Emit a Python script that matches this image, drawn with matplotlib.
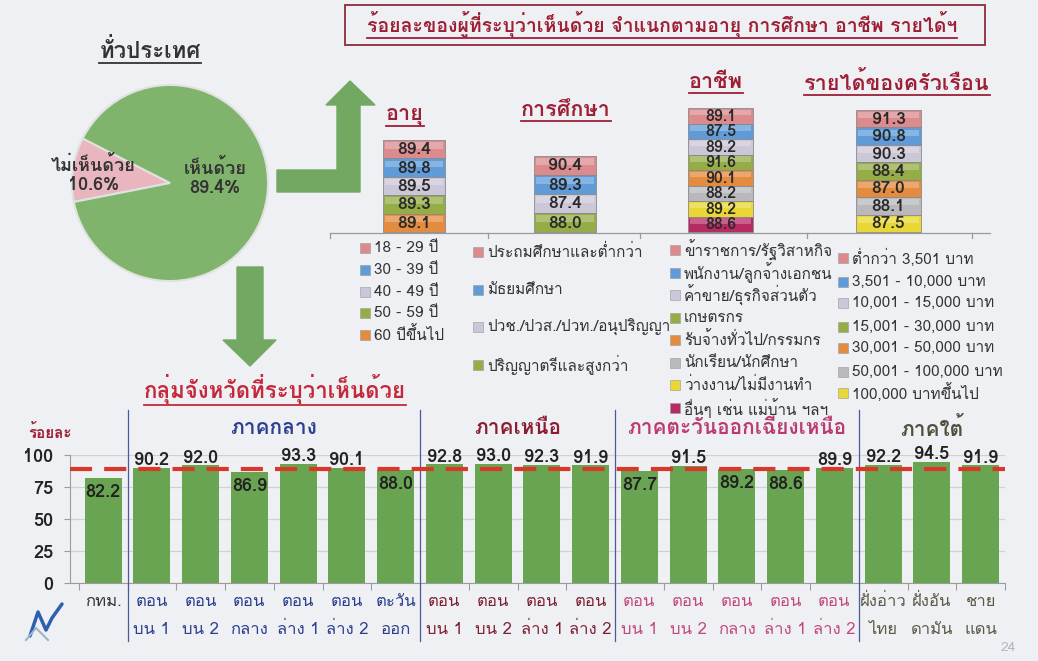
import matplotlib
matplotlib.use("Agg")
import matplotlib.pyplot as plt
import numpy as np
from matplotlib import font_manager
from matplotlib.ft2font import FT2Font
from matplotlib.patches import Polygon, Rectangle


# find an installed family that actually has Thai glyphs
def thai_family():
    for f in font_manager.fontManager.ttflist:
        try:
            if 0x0E01 in FT2Font(f.fname).get_charmap():
                return f.name
        except Exception:
            pass
    return "DejaVu Sans"


TH = thai_family()
plt.rcParams["font.family"] = [TH, "DejaVu Sans"]

# ---- data ----
pie_labels = ["ไม่เห็นด้วย", "เห็นด้วย"]
pie_values = [10.6, 89.4]

age_labels = ["18 - 29 ปี", "30 - 39 ปี", "40 - 49 ปี", "50 - 59 ปี", "60 ปีขึ้นไป"]
age_values = [89.4, 89.8, 89.5, 89.3, 89.1]

edu_labels = ["ประถมศึกษาและต่ำกว่า", "มัธยมศึกษา", "ปวช./ปวส./ปวท./อนุปริญญา",
              "ปริญญาตรีและสูงกว่า"]
edu_values = [90.4, 89.3, 87.4, 88.0]

job_labels = ["ข้าราชการ/รัฐวิสาหกิจ", "พนักงาน/ลูกจ้างเอกชน", "ค้าขาย/ธุรกิจส่วนตัว",
              "เกษตรกร", "รับจ้างทั่วไป/กรรมกร", "นักเรียน/นักศึกษา",
              "ว่างงาน/ไม่มีงานทำ", "อื่นๆ เช่น แม่บ้าน ฯลฯ"]
job_values = [89.1, 87.5, 89.2, 91.6, 90.1, 88.2, 89.2, 88.6]

inc_labels = ["ต่ำกว่า 3,501 บาท", "3,501 - 10,000 บาท", "10,001 - 15,000 บาท",
              "15,001 - 30,000 บาท", "30,001 - 50,000 บาท", "50,001 - 100,000 บาท",
              "100,000 บาทขึ้นไป"]
inc_values = [91.3, 90.8, 90.3, 88.4, 87.0, 88.1, 87.5]

regions = ["ภาคกลาง", "ภาคเหนือ", "ภาคตะวันออกเฉียงเหนือ", "ภาคใต้"]
grp_line1 = ["กทม.", "ตอน", "ตอน", "ตอน", "ตอน", "ตอน", "ตะวัน",
             "ตอน", "ตอน", "ตอน", "ตอน",
             "ตอน", "ตอน", "ตอน", "ตอน", "ตอน",
             "ฝั่งอ่าว", "ฝั่งอัน", "ชาย"]
grp_line2 = ["", "บน 1", "บน 2", "กลาง", "ล่าง 1", "ล่าง 2", "ออก",
             "บน 1", "บน 2", "ล่าง 1", "ล่าง 2",
             "บน 1", "บน 2", "กลาง", "ล่าง 1", "ล่าง 2",
             "ไทย", "ดามัน", "แดน"]
grp_region = [-1, 0, 0, 0, 0, 0, 0, 1, 1, 1, 1, 2, 2, 2, 2, 2, 3, 3, 3]
grp_values = [82.2, 90.2, 92.0, 86.9, 93.3, 90.1, 88.0,
              92.8, 93.0, 92.3, 91.9,
              87.7, 91.5, 89.2, 88.6, 89.9,
              92.2, 94.5, 91.9]

# ---- styling ----
W, H = 1038, 661
bg = "#eef0f3"
green = "#68a451"
arrow_green = "#72a862"
dark_red = "#9e1f35"
cell_colors = ["#dc8a8e", "#5f9bd8", "#cbc6d8", "#95ad47",
               "#e38b3e", "#b9b9bd", "#e8d734", "#b72b63"]
region_colors = ["#2c3f8f", "#8c1d30", "#bb3a72", "#4f4f3c"]
label_colors = ["#333333", "#2c3f8f", "#7e2033", "#c2497c", "#5b5b48"]

fig = plt.figure(figsize=(W / 100, H / 100), dpi=100)
fig.patch.set_facecolor(bg)

# full-figure pixel canvas for the infographic parts
ax0 = fig.add_axes([0, 0, 1, 1])
ax0.set_xlim(0, W)
ax0.set_ylim(H, 0)
ax0.axis("off")

to_underline = []

def utext(x, y, s, **kw):
    t = ax0.text(x, y, s, **kw)
    to_underline.append((t, kw.get("color", "k")))
    return t

# heading + pie
utext(150, 50, "ทั่วประเทศ", fontsize=16, fontweight="bold", color="#333333",
      ha="center", va="center")

axp = fig.add_axes([70 / W, (H - 283) / H, 200 / W, 200 / H])
axp.pie(pie_values, colors=["#e9b6bf", "#80b46c"], startangle=153,
        counterclock=True, radius=1,
        wedgeprops=dict(edgecolor="#dfe3e0", linewidth=1.5))
axp.set_xlim(-1.02, 1.02)
axp.set_ylim(-1.02, 1.02)
axp.text(-0.78, 0.08, f"{pie_labels[0]}\n{pie_values[0]}%", ha="center", va="center",
         fontsize=13, fontweight="bold", color="#333333", linespacing=1.1)
axp.text(0.46, 0.05, f"{pie_labels[1]}\n{pie_values[1]}%", ha="center", va="center",
         fontsize=13, fontweight="bold", color="#333333", linespacing=1.1)

# arrows
ax0.add_patch(Polygon([(277, 170), (337, 170), (337, 105), (326, 105), (350, 81),
                       (375, 105), (360, 105), (360, 192), (277, 192)],
                      closed=True, color=arrow_green, zorder=2))
ax0.add_patch(Polygon([(237, 267), (263, 267), (263, 340), (276, 340), (250, 366),
                       (223, 340), (237, 340)],
                      closed=True, color=arrow_green, zorder=2))

# title box
ax0.add_patch(Rectangle((345, 5), 640, 40, fill=False, edgecolor="#8e2a3b", lw=1.3))
utext(662, 24, "ร้อยละของผู้ที่ระบุว่าเห็นด้วย จำแนกตามอายุ การศึกษา อาชีพ รายได้ฯ",
      fontsize=14, fontweight="bold", color=dark_red, ha="center", va="center")

# stacked blocks
blocks = [
    ("อายุ", age_values, age_labels, 383, 445, 140, (405, 115), 365, [248, 270, 292, 313, 335]),
    ("การศึกษา", edu_values, edu_labels, 534, 596, 156, (566, 110), 478, [252, 290, 327, 365]),
    ("อาชีพ", job_values, job_labels, 688, 753, 108, (716, 82),
     675, [250, 273, 295, 318, 340, 363, 385, 408]),
    ("รายได้ของครัวเรือน", inc_values, inc_labels, 856, 921, 110, (897, 82),
     843, [258, 282, 303, 327, 348, 372, 393]),
]
base_y = 232
for title, vals, labs, x0, x1, top, tpos, lx, lys in blocks:
    utext(tpos[0], tpos[1], title, fontsize=15.5, fontweight="bold", color=dark_red,
          ha="center", va="center")
    n = len(vals)
    ch = (base_y - top) / n
    cols = cell_colors[:n]
    bottoms = top + ch * np.arange(n)
    ax0.bar([(x0 + x1) / 2] * n, [ch] * n, bottom=bottoms, width=x1 - x0,
            color=cols, edgecolor="#8a8a8a", linewidth=0.6, align="center", zorder=3)
    # gloss band on each cell
    ax0.bar([(x0 + x1) / 2] * n, [ch * 0.35] * n, bottom=bottoms + ch * 0.12,
            width=x1 - x0 - 4, color="white", alpha=0.25, linewidth=0, zorder=4)
    fs = 12.5 if ch > 16 else 11.5
    for b, v in zip(bottoms, vals):
        ax0.text((x0 + x1) / 2, b + ch / 2 + 0.5, f"{v:.1f}", ha="center", va="center",
                 fontsize=fs, fontweight="bold", color="#2a2a2a", zorder=5)
    for c, lab, ly in zip(cols, labs, lys):
        ax0.add_patch(Rectangle((lx - 5, ly - 5), 10, 10, facecolor=c,
                                edgecolor="#999999", lw=0.4, zorder=3))
        ax0.text(lx + 9, ly, lab, ha="left", va="center", fontsize=11,
                 color="#333333", zorder=3)

# baseline under the blocks
ax0.plot([330, 990], [base_y + 1, base_y + 1], color="#9a9a9a", lw=0.9, zorder=2)
for tx in [330, 488, 640, 807, 972]:
    ax0.plot([tx, tx], [base_y + 1, base_y + 6], color="#9a9a9a", lw=0.9, zorder=2)

# ---- provincial groups bar chart ----
utext(275, 389, "กลุ่มจังหวัดที่ระบุว่าเห็นด้วย", fontsize=16, fontweight="bold",
      color="#c4283a", ha="center", va="center")
ax0.text(50, 433, "ร้อยละ", fontsize=11, fontweight="bold", color=dark_red,
         ha="center", va="center")

axb = fig.add_axes([70 / W, (H - 583) / H, 935 / W, 128 / H])
axb.set_facecolor("none")
x = np.arange(len(grp_values))
axb.bar(x, grp_values, width=0.76, color=green, zorder=2)
axb.set_xlim(-0.68, len(x) - 0.5)
axb.set_ylim(0, 100)
axb.set_yticks([0, 25, 50, 75, 100])
axb.yaxis.grid(True, color="#cfd1d5", lw=0.9, zorder=0)
axb.axhline(pie_values[1], color="#d8372a", lw=3, ls=(0, (5.3, 2.9)), zorder=4)
for s in ["top", "right"]:
    axb.spines[s].set_visible(False)
for s in ["left", "bottom"]:
    axb.spines[s].set_color("#9c9c9c")
axb.set_xticks(np.arange(-0.5, len(x)), [""] * (len(x) + 1))
axb.tick_params(axis="x", length=5, color="#9c9c9c")
axb.tick_params(axis="y", length=4, color="#9c9c9c", labelsize=13, labelcolor="#222222",
                pad=8)
for lab in axb.get_yticklabels():
    lab.set_fontweight("bold")

for xi, v in zip(x, grp_values):
    yv = v + 6 if v >= pie_values[1] else v - 11
    axb.text(xi, yv, f"{v:.1f}", ha="center", va="center", fontsize=13,
             fontweight="bold", color="#222222", zorder=5, clip_on=False)

tr = axb.get_xaxis_transform()
for xi, l1, l2, r in zip(x, grp_line1, grp_line2, grp_region):
    c = label_colors[r + 1]
    axb.text(xi, -0.15, l1, transform=tr, ha="center", va="center", fontsize=12, color=c)
    axb.text(xi, -0.37, l2, transform=tr, ha="center", va="center", fontsize=12, color=c)

# region separators and names
bounds = [0.5, 6.5, 10.5, 15.5]
for bx in bounds:
    axb.plot([bx, bx], [-0.45, 1.35], transform=tr, color="#4a5a9a", lw=0.9,
             clip_on=False, zorder=3)
ends = bounds[1:] + [len(x) - 0.5]
for name, a, b, c in zip(regions, bounds, ends, region_colors):
    axb.text((a + b) / 2, 1.21, name, transform=tr, ha="center", va="center",
             fontsize=15, fontweight="bold", color=c, clip_on=False)

# small logo mark and page number
ax0.plot([30, 38, 46, 52, 62], [636, 612, 630, 618, 604], color="#2d5fb0", lw=2.5,
         solid_capstyle="round")
ax0.plot([26, 36, 48], [640, 628, 640], color="#9fb3cf", lw=1.5)
ax0.text(1008, 648, "24", fontsize=10, color="#b5b8bd", ha="center", va="center")

# underline headings now that text extents are known
fig.canvas.draw()
rend = fig.canvas.get_renderer()
for t, c in to_underline:
    bb = t.get_window_extent(rend)
    yy = H - bb.y0 + 1
    ax0.plot([bb.x0, bb.x1], [yy, yy], color=c, lw=1.3)

fig.savefig("out.png", dpi=100, facecolor=bg)
